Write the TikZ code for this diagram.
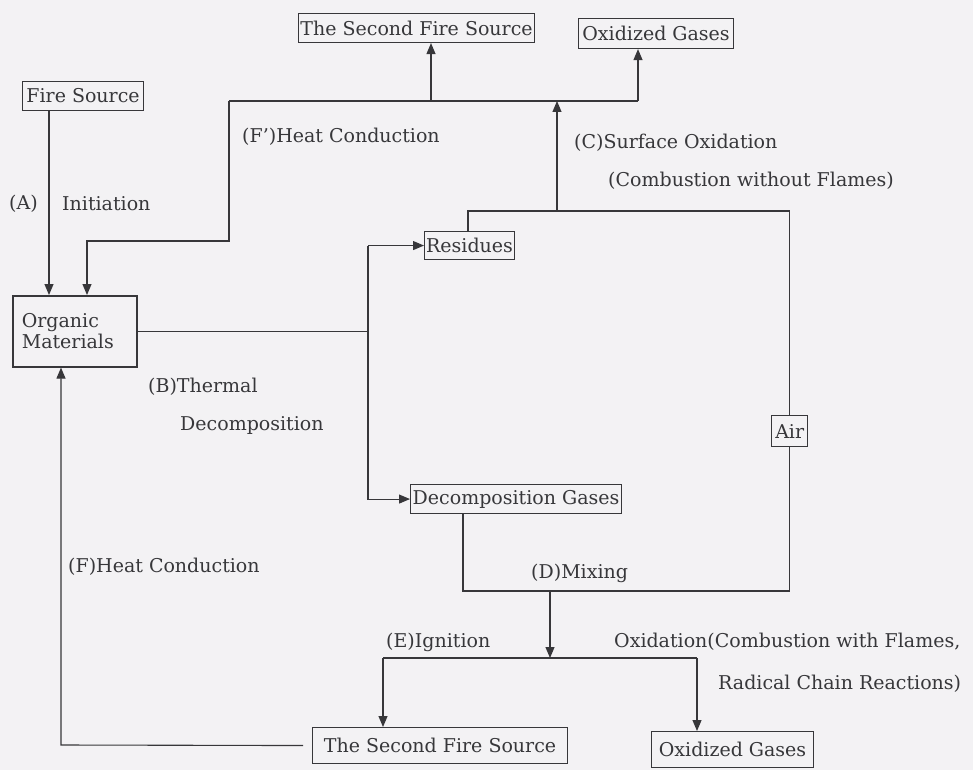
\documentclass[tikz,border=0pt]{standalone}
\usepackage{fontspec}
\setmainfont{DejaVu Serif}
\usetikzlibrary{arrows.meta}
\definecolor{ink}{RGB}{55,55,58}
\definecolor{paper}{RGB}{243,242,244}
\begin{document}
\begin{tikzpicture}[x=1pt,y=-1pt,
  every node/.style={text=ink,font=\fontsize{19}{22}\selectfont},
  box/.style={draw=ink,line width=1.1pt,inner sep=0pt,anchor=north west},
  lbl/.style={anchor=west,inner sep=0pt},
  ln/.style={draw=ink,line width=1.1pt},
  arr/.style={ln,-{Triangle[length=11pt,width=9pt]}}]
\fill[paper] (0,0) rectangle (973,770);
\useasboundingbox (0,0) rectangle (973,770);
% boxes
\node[box,minimum width=121pt,minimum height=29pt] (fs) at (22,81) {Fire Source};
\node[box,minimum width=236pt,minimum height=29pt] (sfs1) at (298,13) {The Second Fire Source};
\node[box,minimum width=155pt,minimum height=30pt] (og1) at (578,18) {Oxidized Gases};
\node[box,line width=1.6pt,minimum height=71pt,text width=106pt,inner xsep=9pt,align=left] (om) at (12,295) {Organic\\[-1pt]Materials};
\node[box,minimum width=90pt,minimum height=28pt] (res) at (424,231) {Residues};
\node[box,minimum width=211pt,minimum height=29pt] (dg) at (410,484) {Decomposition Gases};
\node[box,line width=1.4pt,minimum width=36pt,minimum height=31pt] (air) at (771,415) {Air};
\node[box,minimum width=255pt,minimum height=36pt] (sfs2) at (312,727) {The Second Fire Source};
\node[box,minimum width=162pt,minimum height=36pt] (og2) at (651,731) {Oxidized Gases};
% labels
\node[lbl] (lFp) at (242,137) {(F')Heat Conduction};
\node[lbl] (lC1) at (574,143) {(C)Surface Oxidation};
\node[lbl] (lC2) at (608,181) {(Combustion without Flames)};
\node[lbl] (lA) at (9,204) {(A)};
\node[lbl] (lAi) at (62,204) {Initiation};
\node[lbl] (lB1) at (148,387) {(B)Thermal};
\node[lbl] (lB2) at (180,425) {Decomposition};
\node[lbl] (lF) at (68,567) {(F)Heat Conduction};
\node[lbl] (lD) at (531,573) {(D)Mixing};
\node[lbl] (lE) at (386,642) {(E)Ignition};
\node[lbl] (lO1) at (614,642) {Oxidation(Combustion with Flames,};
\node[lbl] (lO2) at (718,684) {Radical Chain Reactions)};
% coordinates
\coordinate (a1) at (49,0);
\coordinate (bL) at (229,101);
\coordinate (bR) at (638,101);
\coordinate (fp) at (87,241);
\coordinate (u1) at (431,101);
\coordinate (cC) at (557,211);
\coordinate (rl) at (468,211);
\coordinate (j) at (368,331);
\coordinate (dm) at (463,591);
\coordinate (mx) at (550,591);
\coordinate (e1) at (383,658);
\coordinate (e2) at (697,658);
\coordinate (f) at (61,745);
% connectors
\draw[arr] (fs.south -| a1) -- (om.north -| a1);
\draw[ln] (bL) -- (bR);
\draw[arr] (bL) |- (fp) -- (fp |- om.north);
\draw[arr] (u1) -- (u1 |- sfs1.south);
\draw[arr] (bR) -- (bR |- og1.south);
\draw[arr] (cC) -- (cC |- bL);
\draw[ln] (rl |- res.north) -- (rl) -- (rl -| air.north) -- (air.north);
\draw[ln] (om.east) -- (om.east -| j);
\draw[arr] (j |- res.west) -- (res.west);
\draw[arr] (j |- res.west) -- (j |- dg.west) -- (dg.west);
\draw[ln] (dm |- dg.south) -- (dm) -- (dm -| air.south) -- (air.south);
\draw[arr] (mx) -- (mx |- e1);
\draw[ln] (e1) -- (e2);
\draw[arr] (e1) -- (e1 |- sfs2.north);
\draw[arr] (e2) -- (e2 |- og2.north);
\draw[arr,shorten <=9pt] (sfs2.west) -- (f) -- (f |- om.south);
\end{tikzpicture}
\end{document}
